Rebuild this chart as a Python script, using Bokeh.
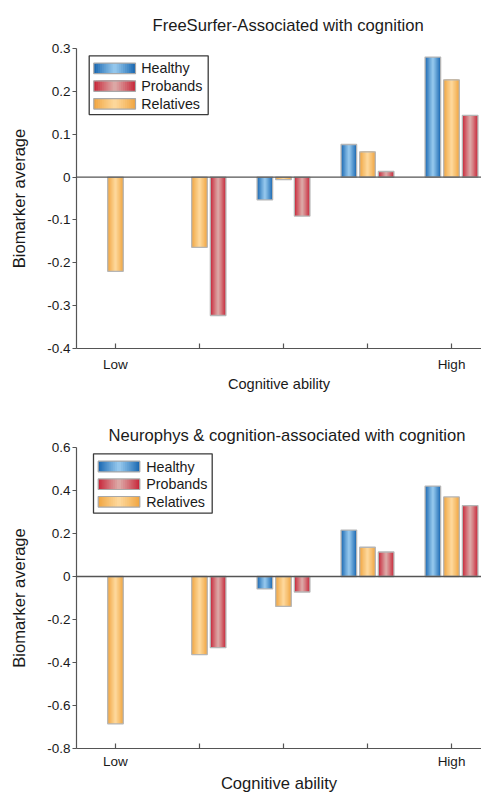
import math
from bokeh.plotting import figure
from bokeh.models import FixedTicker, Span, ColumnDataSource
from bokeh.layouts import column
from bokeh.core.properties import value
from bokeh.embed import file_html
from bokeh.resources import INLINE

nan = float("nan")

# ---------------- data ----------------
groups = [1, 2, 3, 4, 5]
x_tick_labels = ["Low", "", "", "", "High"]
legend_names = ["Healthy", "Probands", "Relatives"]

# Panel 1: FreeSurfer-Associated with cognition
fs_healthy = [nan, nan, -0.053, 0.076, 0.280]
fs_relatives = [-0.220, -0.164, -0.006, 0.059, 0.227]
fs_probands = [nan, -0.323, -0.091, 0.013, 0.144]
fs_y_ticks = [-0.4, -0.3, -0.2, -0.1, 0, 0.1, 0.2, 0.3]
fs_y_labels = ["-0.4", "-0.3", "-0.2", "-0.1", "0", "0.1", "0.2", "0.3"]

# Panel 2: Neurophys & cognition-associated with cognition
np_healthy = [nan, nan, -0.058, 0.216, 0.420]
np_relatives = [-0.685, -0.363, -0.139, 0.136, 0.370]
np_probands = [nan, -0.331, -0.072, 0.114, 0.330]
np_y_ticks = [-0.8, -0.6, -0.4, -0.2, 0, 0.2, 0.4, 0.6]
np_y_labels = ["-0.8", "-0.6", "-0.4", "-0.2", "0", "0.2", "0.4", "0.6"]

# ---------------- style ----------------
FONT = "Liberation Sans"
TXT = "#1a1a1a"
AX = "#555555"
COLORS = {
    "Healthy": ("#1b69b2", "#93c6ec"),
    "Probands": ("#c8283b", "#dca7a5"),
    "Relatives": ("#f1a642", "#fdd79a"),
}
OFFSETS = {"Healthy": -0.222, "Relatives": 0.0, "Probands": 0.222}
BAR_W = 0.185
X0, X1 = 0.536, 5.357
W, H = 481, 400
FL, FT, FB = 76, 47, 52
FW, FH = W - FL, H - FT - FB


def mix(c1, c2, t):
    a = [int(c1[i:i + 2], 16) for i in (1, 3, 5)]
    b = [int(c2[i:i + 2], 16) for i in (1, 3, 5)]
    return "#%02x%02x%02x" % tuple(round(a[j] + (b[j] - a[j]) * t) for j in range(3))


LAYERS = 10


def grad_bars(p, xs, tops, name):
    edge, center = COLORS[name]
    pts = [(x + OFFSETS[name], t) for x, t in zip(xs, tops) if not math.isnan(t)]
    src = ColumnDataSource(dict(x=[a for a, _ in pts], top=[b for _, b in pts]))
    for k in range(LAYERS):
        frac = 1 - k / LAYERS
        t = (k / (LAYERS - 1)) ** 0.9
        p.vbar(x="x", top="top", bottom=0, width=BAR_W * frac, source=src,
               fill_color=mix(edge, center, t), line_color=None)
    p.vbar(x="x", top="top", bottom=0, width=BAR_W, source=src,
           fill_color=None, line_color="#b5b5b5", line_width=1.3)


def make_panel(title, healthy, relatives, probands, yticks, ylabels,
               title_offset, title_standoff, legend_px, xlab_size, xlab_standoff, xtick_standoff):
    y0, y1 = yticks[0], yticks[-1]
    p = figure(width=W, height=H, x_range=(X0, X1), y_range=(y0, y1),
               output_backend="svg", toolbar_location=None,
               min_border_left=FL, min_border_right=0, min_border_top=FT,
               min_border_bottom=FB, outline_line_color=None)
    p.grid.visible = False
    p.background_fill_color = "white"
    p.border_fill_color = "white"

    p.title.text = title
    p.title.align = "left"
    p.title.offset = title_offset
    p.title.standoff = title_standoff
    p.title.text_font = FONT
    p.title.text_font_size = "16.6px"
    p.title.text_font_style = "normal"
    p.title.text_color = TXT

    # axes
    p.xaxis.ticker = FixedTicker(ticks=groups)
    p.xaxis.major_label_overrides = {g: l for g, l in zip(groups, x_tick_labels)}
    p.xaxis.major_tick_in = 5
    p.xaxis.major_tick_out = 0
    p.xaxis.minor_tick_line_color = None
    p.xaxis.axis_label = "Cognitive ability"
    p.xaxis.axis_label_text_font_size = xlab_size
    p.xaxis.axis_label_standoff = xlab_standoff
    p.xaxis.major_label_standoff = xtick_standoff

    p.yaxis.ticker = FixedTicker(ticks=yticks)
    p.yaxis.major_label_overrides = {t: l for t, l in zip(yticks, ylabels)}
    p.yaxis.major_tick_in = 0
    p.yaxis.major_tick_out = 4
    p.yaxis.minor_tick_line_color = None
    p.yaxis.axis_label = "Biomarker average"
    p.yaxis.axis_label_text_font_size = "16.5px"
    p.yaxis.axis_label_standoff = 16
    p.yaxis.major_label_standoff = 2

    for ax in (p.xaxis, p.yaxis):
        ax.axis_line_color = AX
        ax.axis_line_width = 1.2
        ax.major_tick_line_color = AX
        ax.major_tick_line_width = 1.2
        ax.major_label_text_font = FONT
        ax.major_label_text_font_size = "13.5px"
        ax.major_label_text_color = TXT
        ax.axis_label_text_font = FONT
        ax.axis_label_text_font_style = "normal"
        ax.axis_label_text_color = TXT

    # bars
    grad_bars(p, groups, healthy, "Healthy")
    grad_bars(p, groups, relatives, "Relatives")
    grad_bars(p, groups, probands, "Probands")

    p.add_layout(Span(location=0, dimension="width", line_color=AX, line_width=1.3))

    # legend (layout in pixels converted to data units)
    def px(xp):
        return X0 + (xp - FL) * (X1 - X0) / FW

    def py(yp):
        return y1 - (yp - FT) * (y1 - y0) / FH

    bx0, by0, bx1, by1, sx0, sx1, tx, rows, sh = legend_px
    p.quad(left=[px(bx0)], right=[px(bx1)], top=[py(by0)], bottom=[py(by1)],
           fill_color="white", line_color="#3a3a3a", line_width=1.3)
    for name, rc in zip(legend_names, rows):
        edge, center = COLORS[name]
        cx = (sx0 + sx1) / 2
        hw = (sx1 - sx0) / 2
        for k in range(LAYERS):
            frac = 1 - k / LAYERS
            t = (k / (LAYERS - 1)) ** 0.9
            p.quad(left=[px(cx - hw * frac)], right=[px(cx + hw * frac)],
                   top=[py(rc - sh / 2)], bottom=[py(rc + sh / 2)],
                   fill_color=mix(edge, center, t), line_color=None)
        p.quad(left=[px(sx0)], right=[px(sx1)], top=[py(rc - sh / 2)], bottom=[py(rc + sh / 2)],
               fill_color=None, line_color="#a8a8a8", line_width=1.2)
    p.text(x=[px(tx)] * 3, y=[py(r) for r in rows], text=legend_names,
           text_font=value(FONT), text_font_size=value("14.3px"),
           text_baseline="middle", text_align="left", text_color=TXT)
    return p


p1 = make_panel("FreeSurfer-Associated with cognition", fs_healthy, fs_relatives, fs_probands,
                fs_y_ticks, fs_y_labels, 76, 27,
                (88.7, 54.3, 207.7, 113.3, 93.3, 135.0, 140.7, (67.0, 84.7, 102.5), 10.6),
                "14.6px", 1, 8)
p2 = make_panel("Neurophys & cognition-associated with cognition", np_healthy, np_relatives, np_probands,
                np_y_ticks, np_y_labels, 32, 6,
                (93.0, 53.3, 211.7, 112.7, 97.7, 139.3, 145.7, (66.0, 83.7, 101.3), 10.6),
                "16.6px", 2, 5)

layout = column(p1, p2, spacing=0)
open("out.html", "w").write(file_html(layout, INLINE))
